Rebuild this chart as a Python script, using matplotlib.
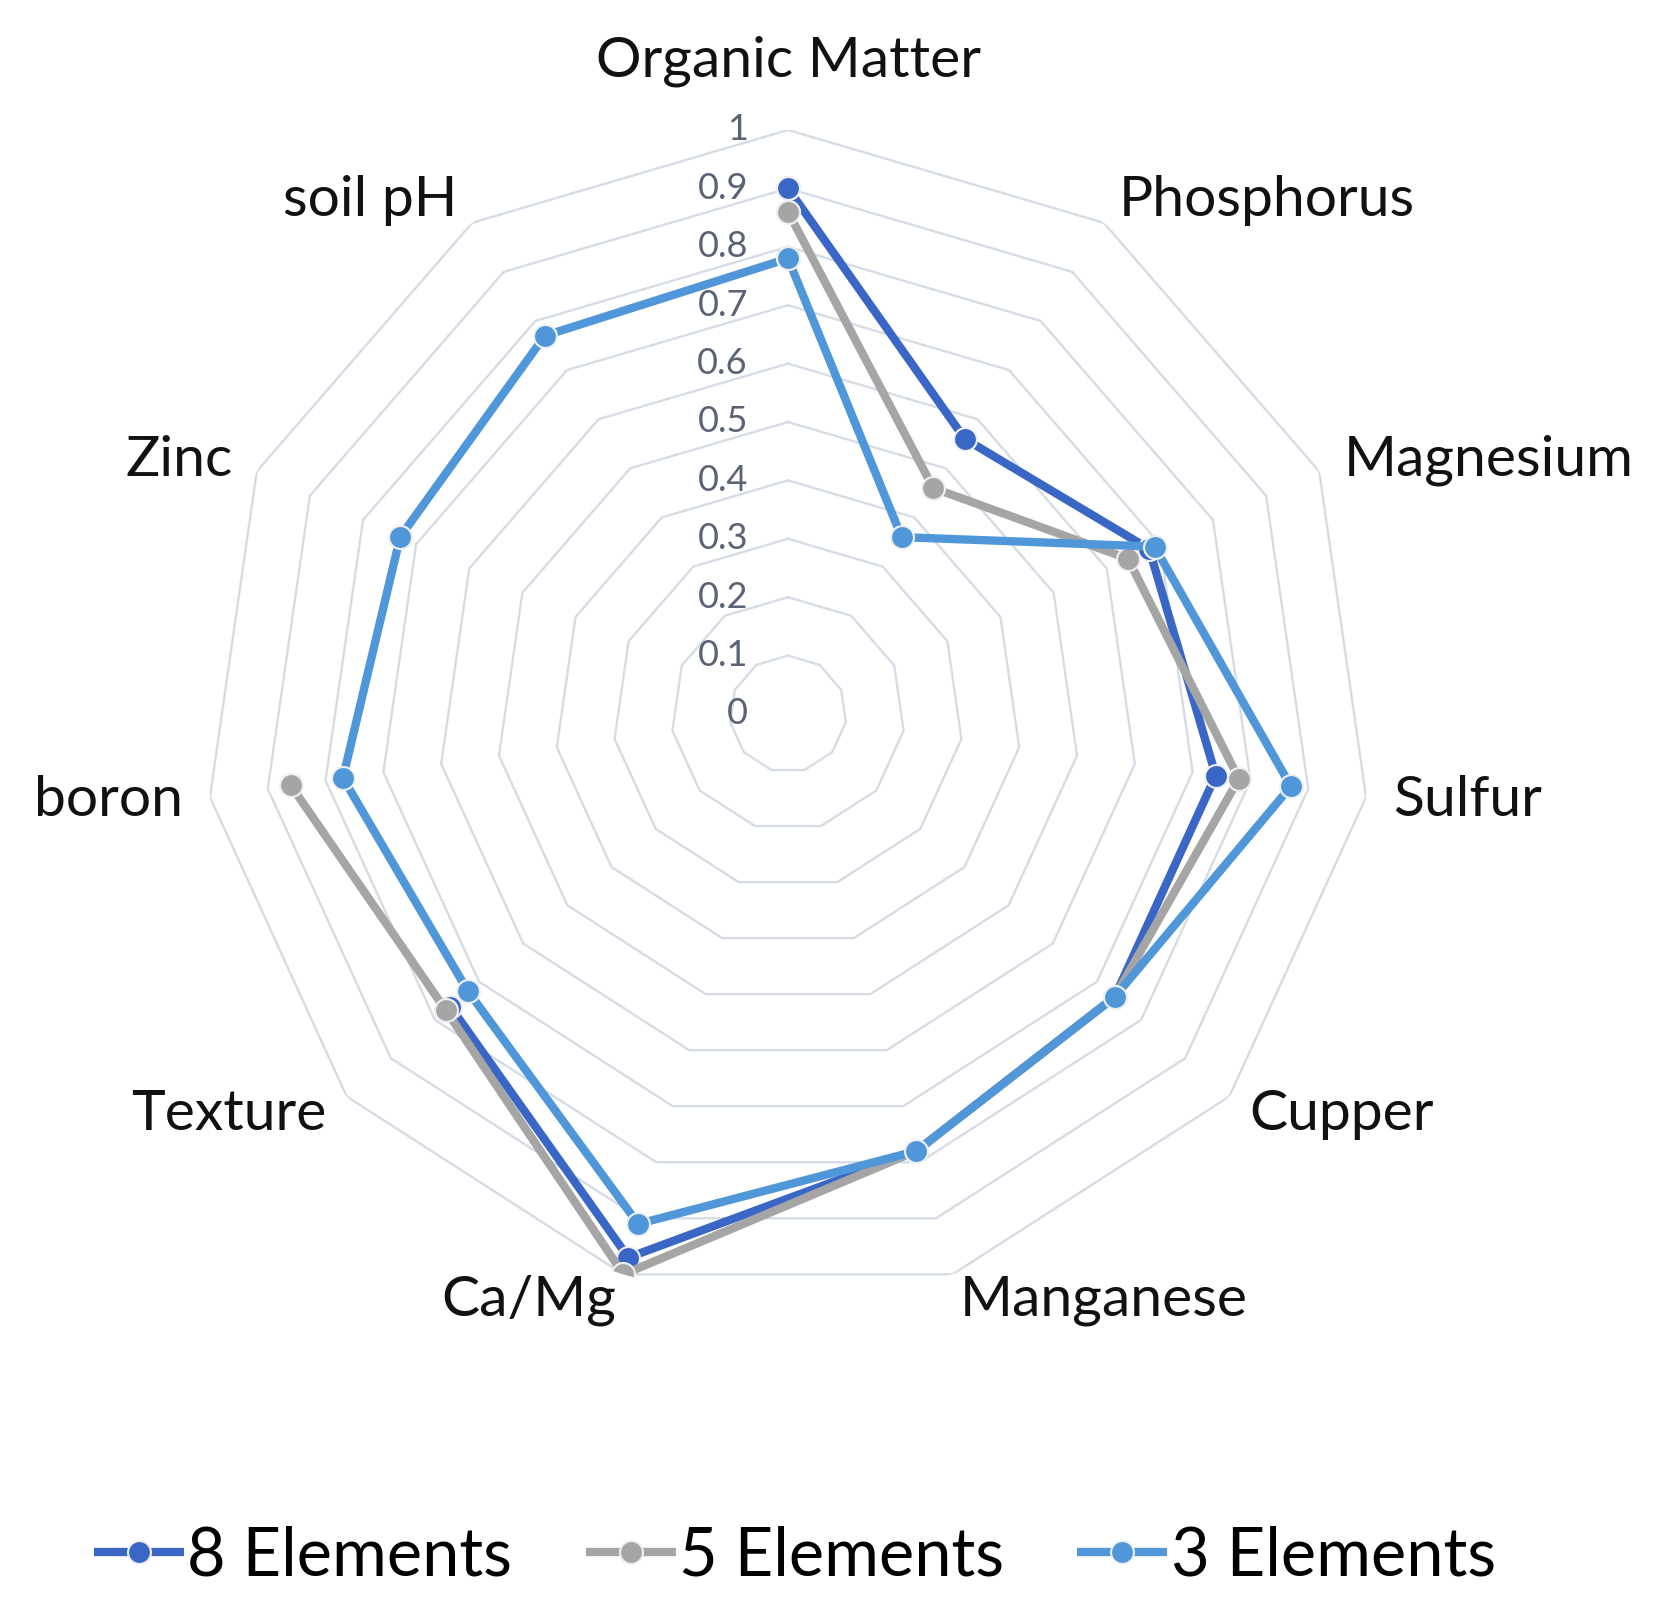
import numpy as np
import matplotlib
matplotlib.use("Agg")
import matplotlib.pyplot as plt

categories = ['Organic Matter', 'Phosphorus', 'Magnesium', 'Sulfur', 'Cupper',
              'Manganese', 'Ca/Mg', 'Texture', 'boron', 'Zinc', 'soil pH']
nan = np.nan
elements_8 = [0.90, 0.56, 0.68, 0.74, 0.74, 0.78, 0.97, 0.765, nan, nan, nan]
elements_5 = [0.86, 0.46, 0.64, 0.78, 0.74, 0.78, 1.00, 0.775, 0.86, nan, nan]
elements_3 = [0.78, 0.36, 0.69, 0.87, 0.74, 0.78, 0.91, 0.725, 0.77, 0.73, 0.77]
series_names = ['8 Elements', '5 Elements', '3 Elements']
series_colors = ['#3a66c6', '#a5a5a5', '#4f97d8']
tick_values = [0.0, 0.1, 0.2, 0.3, 0.4, 0.5, 0.6, 0.7, 0.8, 0.9, 1.0]
tick_labels = ['0', '0.1', '0.2', '0.3', '0.4', '0.5', '0.6', '0.7', '0.8', '0.9', '1']

plt.rcParams['font.family'] = ['Lato', 'DejaVu Sans']

W, H = 1670, 1623
fig = plt.figure(figsize=(W / 100, H / 100), dpi=100)
cx, cy, R = 788, 714, 584
ax = fig.add_axes([(cx - R) / W, (H - cy - R) / H, 2 * R / W, 2 * R / H], projection='polar')
ax.set_theta_offset(np.pi / 2)
ax.set_theta_direction(-1)
ax.set_ylim(0, 1)
ax.grid(False)
ax.spines['polar'].set_visible(False)
ax.set_xticks([])
ax.set_yticks([])
ax.patch.set_alpha(0)

n = len(categories)
theta = np.arange(n) * 2 * np.pi / n
theta_closed = np.append(theta, theta[0])

# polygon grid
for v in tick_values[1:]:
    ax.plot(theta_closed, [v] * (n + 1), color='#d5dce6', lw=1.7, zorder=1)

# tick labels
for v, lab in zip(tick_values, tick_labels):
    ax.annotate(lab, xy=(0, v), xytext=(-40, 0), textcoords='offset pixels',
                ha='right', va='center', fontsize=26, color='#5a6275', zorder=2)

# series
for vals, name, col in zip([elements_8, elements_5, elements_3], series_names, series_colors):
    v = np.array(vals, dtype=float)
    vc = np.append(v, v[0])
    ax.plot(theta_closed, vc, color=col, lw=6, marker='o', markersize=16.5,
            markeredgecolor='#f0f0f0', markeredgewidth=1.5, label=name, zorder=3,
            solid_capstyle='butt')

# category labels
for t, lab in zip(theta, categories):
    deg = np.degrees(t)
    if deg < 1:
        ax.text(t, 1.118, lab, ha='center', va='center', fontsize=41, color='#111111')
    elif deg < 180:
        ax.text(t, 1.046, lab, ha='left', va='center', fontsize=41, color='#111111')
    else:
        ax.text(t, 1.046, lab, ha='right', va='center', fontsize=41, color='#111111')

handles, labels = ax.get_legend_handles_labels()
fig.legend(handles, labels, loc='center', bbox_to_anchor=(0.476, 0.041), ncol=3,
           frameon=False, fontsize=48, handlelength=1.35, handletextpad=0.05,
           columnspacing=1.1, numpoints=1)

fig.savefig('out.png', dpi=100, facecolor='white')
